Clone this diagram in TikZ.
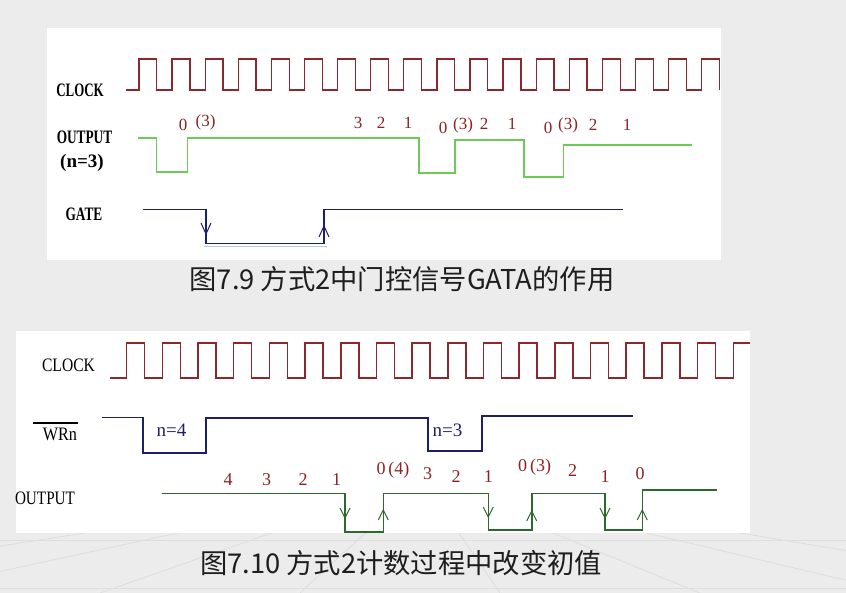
\documentclass[tikz,border=0pt]{standalone}
\usepackage{fontspec}
\setmainfont{Liberation Serif}
\newfontfamily\cjk{Noto Sans CJK SC}
\usepackage{graphicx}
\definecolor{bgc}{RGB}{236,236,236}
\definecolor{gridc}{RGB}{222,222,222}
\definecolor{clkc}{RGB}{140,40,45}
\definecolor{greenA}{RGB}{110,200,90}
\definecolor{greenB}{RGB}{45,105,45}
\definecolor{navyc}{RGB}{30,30,110}
\definecolor{shadowc}{RGB}{185,200,240}
\definecolor{numc}{RGB}{140,35,35}
\definecolor{capc}{RGB}{30,30,30}
\begin{document}
\begin{tikzpicture}[x=1pt,y=-1pt,
  clkline/.style={draw=clkc,line width=1.3pt},
  outAline/.style={draw=greenA,line width=1.4pt},
  outBline/.style={draw=greenB,line width=1.6pt},
  navyline/.style={draw=navyc,line width=1.4pt},
  navyB/.style={draw=navyc,line width=1.7pt},
  sig/.style={font=\fontsize{19}{19}\selectfont,inner sep=0pt,text=black},
  sigb/.style={font=\bfseries\fontsize{19}{19}\selectfont,inner sep=0pt,text=black},
  num/.style={font=\fontsize{17}{17}\selectfont,inner sep=0pt,text=numc},
  numB/.style={font=\fontsize{18}{18}\selectfont,inner sep=0pt,text=numc},
  nval/.style={font=\fontsize{19}{19}\selectfont,inner sep=0pt,text=navyc},
  capt/.style={font=\cjk\fontsize{27.3}{28}\selectfont,inner sep=0pt,text=capc}]
\useasboundingbox (0,0) rectangle (846,593);
% background
\fill[bgc] (0,0) rectangle (846,593);
\foreach \a in {-300,-100,100,300,500,700,900,1100}{
  \draw[gridc,line width=0.8pt] (423,480) -- ({423+(\a-423)*1.0},593);
}
\draw[gridc,line width=0.8pt] (0,540) -- (846,540);
\draw[gridc,line width=0.8pt] (0,588) -- (846,588);
% white panels
\fill[white] (47,28) rectangle (721,260);
\fill[white] (16,331) rectangle (750,533);

% ===== Figure 7.9 =====
\draw[clkline] (126,90) \foreach \i in {0,...,17}{
  -- ({139+33.1*\i},90) -- ({139+33.1*\i},59) -- ({156.8+33.1*\i},59) -- ({156.8+33.1*\i},90)};
\draw[outAline] (138,138) -- (156.7,138) -- (156.7,172) -- (187.3,172) -- (187.3,138)
  -- (419,138) -- (419,173) -- (455,173) -- (455,140) -- (524,140) -- (524,177)
  -- (563.3,177) -- (563.3,145) -- (692,145);
\draw[shadowc,line width=1.6pt] (204,246.5) -- (327,246.5);
\draw[navyline] (142.7,209.5) -- (206,209.5) -- (206,243.5) -- (324,243.5) -- (324,209.5) -- (623,209.5);
\draw[navyc,line width=1pt] (201,223) -- (206,234) -- (211,223);
\draw[navyc,line width=1pt] (319,237) -- (324,226) -- (329,237);

\node[sigb] (clkA) at (80,90) {\scalebox{.68}[1]{CLOCK}};
\node[sigb] (outA) at (84.5,137) {\scalebox{.7}[1]{OUTPUT}};
\node[sigb] (nthree) at (82,163) {(n=3)};
\node[sigb] (gateA) at (84,214) {\scalebox{.7}[1]{GATE}};

\node[num] (a0) at (183,125) {0};
\node[num] (a1) at (205.5,122) {(3)};
\node[num] (a2) at (358,123) {3};
\node[num] (a3) at (381,123) {2};
\node[num] (a4) at (408,123) {1};
\node[num] (a5) at (443,128) {0};
\node[num] (a6) at (463,125) {(3)};
\node[num] (a7) at (484,124) {2};
\node[num] (a8) at (512,124) {1};
\node[num] (a9) at (548,128) {0};
\node[num] (a10) at (568,125) {(3)};
\node[num] (a11) at (593,125) {2};
\node[num] (a12) at (627,125) {1};

\node[capt] (cap1) at (402,279) {图7.9 方式2中门控信号GATA的作用};

% ===== Figure 7.10 =====
\draw[clkline,line width=1.5pt] (110,378) \foreach \i in {0,...,16}{
  -- ({126.7+35.68*\i},378) -- ({126.7+35.68*\i},343) -- ({144.7+35.68*\i},343) -- ({144.7+35.68*\i},378)}
  -- (733.3,378) -- (733.3,343) -- (750,343);
\draw[navyB] (101.7,417.5) -- (143.3,417.5) -- (143.3,453.3) -- (206,453.3) -- (206,418)
  -- (428.3,418) -- (428.3,450.7) -- (481.7,450.7) -- (481.7,416) -- (632.7,416);
\draw[outBline] (161.7,493.3) -- (345,493.3) -- (345,531.7) -- (383.3,531.7) -- (383.3,493.3)
  -- (488.3,493.3) -- (488.3,530) -- (531.7,530) -- (531.7,493.3) -- (605,493.3) -- (605,530)
  -- (642.3,530) -- (642.3,490) -- (716.7,490);
\foreach \x/\y in {345/518, 488.3/517, 605/518}{
  \draw[greenB,line width=1pt] (\x-5,\y-10) -- (\x,\y) -- (\x+5,\y-10);
}
\foreach \x/\y in {383.3/510, 531.7/511, 642.3/510}{
  \draw[greenB,line width=1pt] (\x-5,\y+10) -- (\x,\y) -- (\x+5,\y+10);
}

\node[sig] (clkB) at (68.5,365) {\scalebox{.82}[1]{CLOCK}};
\node[sig] (wrn) at (60,434) {\scalebox{.85}[1]{WRn}};
\draw[black,line width=1.2pt] (33,423) -- (78,423);
\node[sig] (outB) at (45,498) {\scalebox{.8}[1]{OUTPUT}};

\node[nval] (nfour) at (171.5,430) {n=4};
\node[nval] (nthreeB) at (447.5,430) {n=3};

\node[numB] (b0) at (228,480) {4};
\node[numB] (b1) at (266.7,480) {3};
\node[numB] (b2) at (303,480) {2};
\node[numB] (b3) at (336.7,480) {1};
\node[numB] (b4) at (393,470.5) {0\,(4)};
\node[numB] (b5) at (427.7,474) {3};
\node[numB] (b6) at (456,477) {2};
\node[numB] (b7) at (488.3,477) {1};
\node[numB] (b8) at (534.7,467.3) {0\,(3)};
\node[numB] (b9) at (572.7,471) {2};
\node[numB] (b10) at (605,477) {1};
\node[numB] (b11) at (640,474) {0};

\node[capt] (cap2) at (401,563) {图7.10 方式2计数过程中改变初值};
\end{tikzpicture}
\end{document}
